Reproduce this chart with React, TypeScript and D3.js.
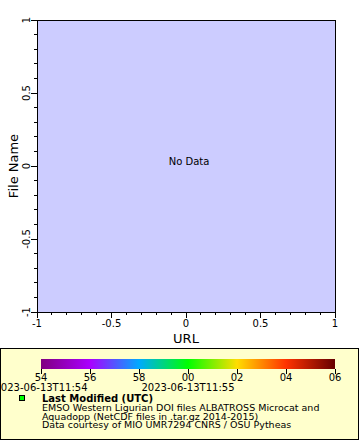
import { useRef, useEffect } from 'react';
import * as d3 from 'd3';

// axis ranges (no data in the plot itself)
const xDomain: [number, number] = [-1, 1];
const yDomain: [number, number] = [-1, 1];
const majorTicks = [-1, -0.5, 0, 0.5, 1];
const minorTicks = [-0.9, -0.8, -0.7, -0.6, -0.4, -0.3, -0.2, -0.1, 0.1, 0.2, 0.3, 0.4, 0.6, 0.7, 0.8, 0.9];

// colorbar (seconds of 2023-06-13T11:54:54 .. 11:55:06)
const cbarLabels = ['54', '56', '58', '00', '02', '04', '06'];
const cbarColors = ['#800080', '#aa00ff', '#00aaff', '#00ff00', '#ffdd00', '#ff3300', '#660000'];
const cbarDates = [
  { at: 0, text: '2023-06-13T11:54' },
  { at: 3, text: '2023-06-13T11:55' },
];

const legendLines = [
  'EMSO Western Ligurian DOI files ALBATROSS Microcat and',
  'Aquadopp (NetCDF files in .tar.gz 2014-2015)',
  'Data courtesy of MIO UMR7294 CNRS / OSU Pytheas',
];

const FONT = 'DejaVu Sans, sans-serif';

export default function App() {
  const svgRef = useRef<SVGSVGElement>(null);

  useEffect(() => {
    if (!svgRef.current) return;
    const svg = d3.select(svgRef.current);
    svg.selectAll('*').remove();

    const left = 37, right = 335, top = 20, bottom = 312;
    const x = d3.scaleLinear().domain(xDomain).range([left, right]);
    const y = d3.scaleLinear().domain(yDomain).range([bottom, top]);

    svg.append('rect').attr('width', 360).attr('height', 440).attr('fill', '#ffffff');

    // plot area
    svg.append('rect')
      .attr('x', left).attr('y', top)
      .attr('width', right - left).attr('height', bottom - top)
      .attr('fill', '#ccccff')
      .attr('stroke', '#000').attr('stroke-width', 1)
      .attr('shape-rendering', 'crispEdges');

    svg.append('text')
      .attr('x', (left + right) / 2 + 3).attr('y', 165)
      .attr('text-anchor', 'middle')
      .attr('font-family', FONT).attr('font-size', 10)
      .text('No Data');

    // ticks
    const tg = svg.append('g').attr('stroke', '#000').attr('shape-rendering', 'crispEdges');
    majorTicks.forEach((t) => {
      tg.append('line').attr('x1', x(t)).attr('x2', x(t)).attr('y1', bottom).attr('y2', bottom + 6);
      tg.append('line').attr('y1', y(t)).attr('y2', y(t)).attr('x1', left).attr('x2', left - 6);
    });
    minorTicks.forEach((t) => {
      tg.append('line').attr('x1', x(t)).attr('x2', x(t)).attr('y1', bottom).attr('y2', bottom + 3);
      tg.append('line').attr('y1', y(t)).attr('y2', y(t)).attr('x1', left).attr('x2', left - 3);
    });

    const fmt = (v: number) => String(v);
    svg.append('g').selectAll('text').data(majorTicks).join('text')
      .attr('x', (d) => x(d)).attr('y', 327)
      .attr('text-anchor', 'middle')
      .attr('font-family', FONT).attr('font-size', 10)
      .text(fmt);

    svg.append('g').selectAll('text').data(majorTicks).join('text')
      .attr('transform', (d) => `translate(30,${y(d)}) rotate(-90)`)
      .attr('text-anchor', 'middle')
      .attr('font-family', FONT).attr('font-size', 10)
      .text(fmt);

    svg.append('text')
      .attr('x', (left + right) / 2).attr('y', 343)
      .attr('text-anchor', 'middle')
      .attr('font-family', FONT).attr('font-size', 13)
      .text('URL');

    svg.append('text')
      .attr('transform', `translate(18,${(top + bottom) / 2}) rotate(-90)`)
      .attr('text-anchor', 'middle')
      .attr('font-family', FONT).attr('font-size', 13)
      .text('File Name');

    // legend box
    svg.append('rect')
      .attr('x', 0.5).attr('y', 348.5).attr('width', 358).attr('height', 91)
      .attr('fill', '#ffffcc').attr('stroke', '#000');

    // colorbar
    const c = d3.scaleLinear().domain([0, cbarLabels.length - 1]).range([41, 335]);
    const color = d3.scaleLinear<string>()
      .domain(d3.range(cbarColors.length))
      .range(cbarColors)
      .interpolate(d3.interpolateRgb);

    const grad = svg.append('defs').append('linearGradient').attr('id', 'cbar');
    cbarColors.forEach((col, i) => {
      grad.append('stop')
        .attr('offset', `${(i / (cbarColors.length - 1)) * 100}%`)
        .attr('stop-color', color(i));
    });
    svg.append('rect')
      .attr('x', c(0)).attr('y', 359)
      .attr('width', c(cbarLabels.length - 1) - c(0)).attr('height', 10)
      .attr('fill', 'url(#cbar)');

    cbarLabels.forEach((lab, i) => {
      svg.append('line')
        .attr('x1', c(i)).attr('x2', c(i)).attr('y1', 369).attr('y2', 374)
        .attr('stroke', '#000').attr('shape-rendering', 'crispEdges');
      svg.append('text')
        .attr('x', c(i)).attr('y', 381)
        .attr('text-anchor', 'middle')
        .attr('font-family', FONT).attr('font-size', 10)
        .text(lab);
    });
    cbarDates.forEach((d) => {
      svg.append('text')
        .attr('x', c(d.at)).attr('y', 391)
        .attr('text-anchor', 'middle')
        .attr('font-family', FONT).attr('font-size', 10)
        .text(d.text);
    });

    // marker + legend text
    svg.append('rect')
      .attr('x', 19.5).attr('y', 395.5).attr('width', 5).attr('height', 5)
      .attr('fill', '#00ff00').attr('stroke', '#000');

    svg.append('text')
      .attr('x', 42).attr('y', 402)
      .attr('font-family', FONT).attr('font-size', 10).attr('font-weight', 'bold')
      .text('Last Modified (UTC)');

    legendLines.forEach((line, i) => {
      svg.append('text')
        .attr('x', 42).attr('y', 410.8 + i * 8.7)
        .attr('font-family', FONT).attr('font-size', 9.5)
        .text(line);
    });
  }, []);

  return (
    <svg
      ref={svgRef}
      width={360}
      height={440}
      style={{ position: 'absolute', left: 0, top: 0 }}
    />
  );
}
